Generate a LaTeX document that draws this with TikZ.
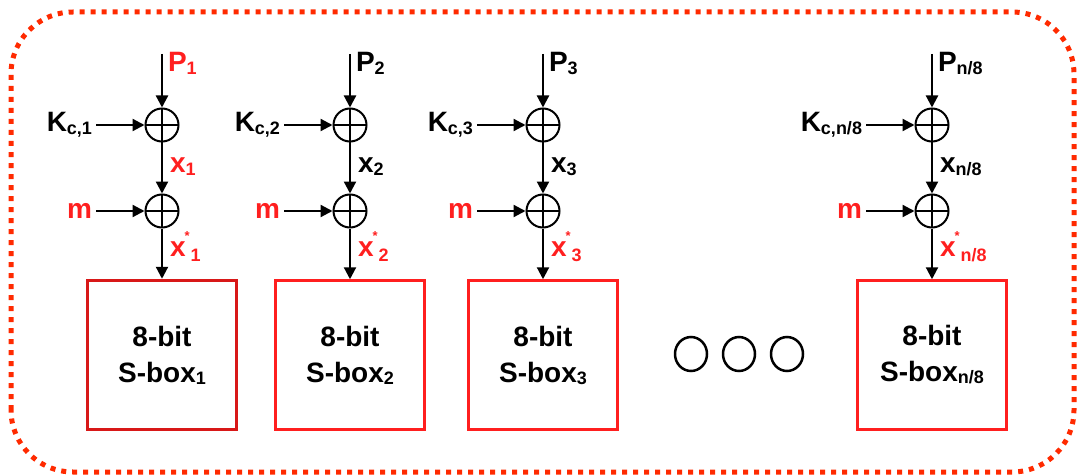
\documentclass[tikz,border=0pt]{standalone}
\usepackage{fontspec}
\setmainfont{Liberation Sans}
\usetikzlibrary{arrows.meta,positioning,shapes.geometric}
\definecolor{sred}{HTML}{FF1F1F}
\definecolor{dred}{HTML}{D81818}
\definecolor{framered}{HTML}{FF2A00}
\newcommand{\lo}[1]{\raisebox{-3pt}{\fontsize{18}{18}\selectfont #1}}
\newcommand{\xstar}[1]{x\hspace{-1pt}\rlap{\raisebox{16pt}{\fontsize{13}{13}\selectfont *}}\hspace{6pt}\raisebox{-5pt}{\fontsize{18}{18}\selectfont #1}}

\begin{document}
\begin{tikzpicture}[x=1pt,y=1pt,
    font=\fontsize{28}{32}\selectfont\bfseries,
    flow/.style={-{Triangle[length=12pt,width=12pt]},line width=2.2pt},
    xorgate/.style={circle,draw,line width=2pt,minimum size=33pt,inner sep=0pt,
      path picture={\draw[line width=1.2pt]
        (path picture bounding box.north) -- (path picture bounding box.south)
        (path picture bounding box.west) -- (path picture bounding box.east);}},
    sbox/.style={draw=sred,line width=2.5pt,minimum size=149pt,inner sep=0pt,
      align=center,font=\fontsize{28}{36}\selectfont\bfseries},
    sboxfirst/.style={sbox,draw=dred,line width=3.5pt},
    lab/.style={inner sep=0pt,outer sep=0pt},
    inlab/.style={lab,anchor=east,inner xsep=4pt}]
  \useasboundingbox (0,0) rectangle (1077,475);
  \draw[framered,line width=5pt,dash pattern=on 5pt off 6pt,rounded corners=62pt]
    (11,3) rectangle (1074,463);
  \foreach \i/\cx/\idx/\col/\bst in {1/162/1/sred/sboxfirst,2/350/2/black/sbox,
      3/543/3/black/sbox,4/932/n\slash 8/black/sbox} {
    \node[xorgate] (xa\i) at (\cx,350) {};
    \node[xorgate] (xb\i) at (\cx,264) {};
    \node[\bst] (sb\i) at (\cx,120) {8-bit\\S-box\raisebox{-2pt}{\fontsize{18}{18}\selectfont\idx}};
    \coordinate (in\i) at (\cx,421);
    \node[inlab] (k\i) at (\cx-66,350) {K\lo{c,\idx}};
    \node[inlab,text=sred] (m\i) at (\cx-66,264) {m};
    \node[lab,anchor=base west,text=\col] (p\i) at (\cx+6,403) {P\lo{\idx}};
    \node[lab,anchor=base west,text=\col] (x\i) at (\cx+8,302) {x\lo{\idx}};
    \node[lab,anchor=base west,text=sred] (xs\i) at (\cx+8,219) {\xstar{\idx}};
    \draw[flow] (in\i) -- (xa\i);
    \draw[flow] (k\i) -- (xa\i);
    \draw[flow] (xa\i) -- (xb\i);
    \draw[flow] (m\i) -- (xb\i);
    \draw[flow] (xb\i) -- (sb\i);
  }
  \foreach \j/\dx in {1/691,2/739,3/787}
    \node[ellipse,draw,line width=2.5pt,minimum width=32pt,minimum height=34pt,inner sep=0pt] (dot\j) at (\dx,121) {};
\end{tikzpicture}
\end{document}
